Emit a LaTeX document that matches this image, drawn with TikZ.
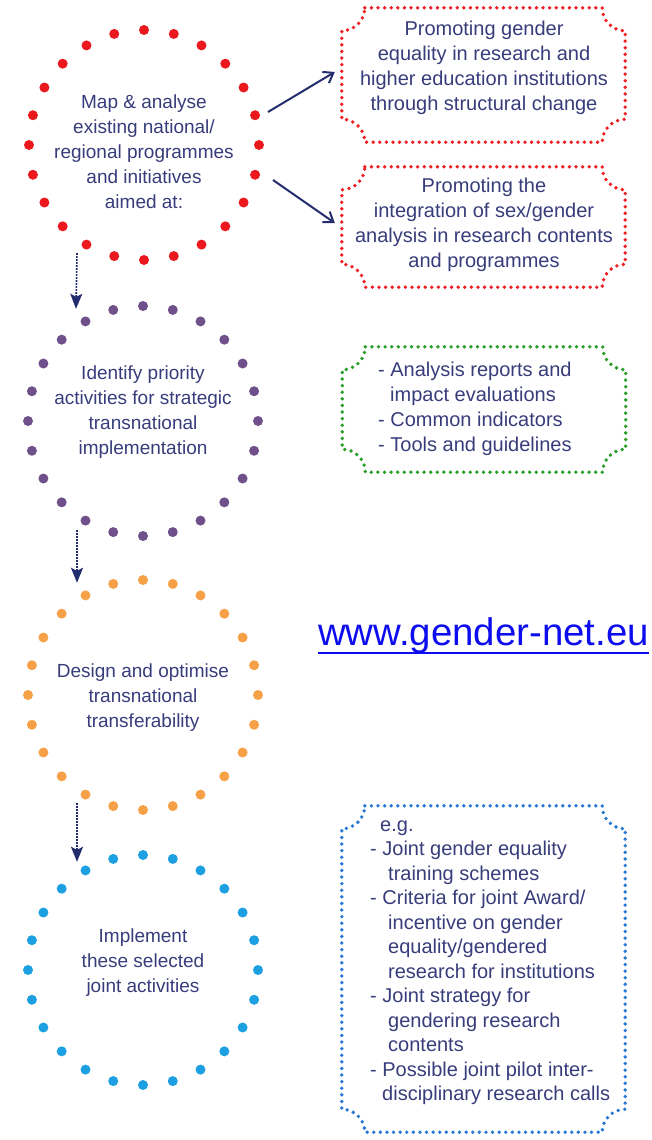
\documentclass[tikz,border=0pt]{standalone}
\usepackage{fontspec}
\setmainfont{Liberation Sans}
\usetikzlibrary{arrows.meta}
\definecolor{textnavy}{RGB}{55,60,122}
\definecolor{arrownavy}{RGB}{35,45,110}
\definecolor{dotred}{RGB}{235,25,30}
\definecolor{dotpurple}{RGB}{112,80,138}
\definecolor{dotorange}{RGB}{246,160,72}
\definecolor{dotblue}{RGB}{28,160,226}
\definecolor{boxred}{RGB}{238,30,35}
\definecolor{boxgreen}{RGB}{40,158,40}
\definecolor{boxblue}{RGB}{40,120,212}
\definecolor{urlblue}{RGB}{12,12,238}
\newcommand{\dotring}[2]{%
  \foreach \a in {0,15,...,345}
    \fill [#2] (#1.center) ++(\a:115pt) circle (5pt);}
\newcommand{\ticketbox}[2]{%
  \draw [boxline, #2] ([xshift=23pt]#1.north west) -- ([xshift=-23pt]#1.north east)
    arc [start angle=180, end angle=270, radius=23pt] -- ([yshift=23pt]#1.south east)
    arc [start angle=90, end angle=180, radius=23pt] -- ([xshift=23pt]#1.south west)
    arc [start angle=0, end angle=90, radius=23pt] -- ([yshift=-23pt]#1.north west)
    arc [start angle=270, end angle=360, radius=23pt] -- cycle;}
\begin{document}
\begin{tikzpicture}[x=1pt, y=1pt,
    every node/.style={inner sep=0pt},
    ringnode/.style={circle, minimum size=230pt},
    boxnode/.style={rectangle, minimum width=283pt},
    circtext/.style={align=center, text=textnavy, font=\fontsize{19}{25}\selectfont},
    boxtext/.style={text=textnavy, font=\fontsize{20}{25}\selectfont},
    boxline/.style={line width=3.8pt, line cap=round, dash pattern=on 0pt off 6.6pt},
    linkarrow/.style={arrownavy, line width=2pt, -{Straight Barb[length=9pt,width=13pt]}},
    flowarrow/.style={arrownavy, line width=1.6pt, dash pattern=on 1.6pt off 1.4pt,
      -{Stealth[length=15pt,width=12pt,inset=3pt]}}]
    \useasboundingbox (0,0) rectangle (652,-1140);
    \node [ringnode] (map) at (144,-145) {};
    \node [ringnode] (identify) at (143,-421) {};
    \node [ringnode] (design) at (143,-695) {};
    \node [ringnode] (implement) at (143,-970) {};
    \dotring{map}{dotred}
    \dotring{identify}{dotpurple}
    \dotring{design}{dotorange}
    \dotring{implement}{dotblue}
    \node [circtext] (maptext) at (144,-152) {Map \& analyse\\existing national/\\regional programmes\\and initiatives\\aimed at:};
    \node [circtext] (identifytext) at (143,-412) {Identify priority\\activities for strategic\\transnational\\implementation};
    \node [circtext] (designtext) at (143,-698) {Design and optimise\\transnational\\transferability};
    \node [circtext] (implementtext) at (143,-963) {Implement\\these selected\\joint activities};
    \node [boxnode, minimum height=134pt] (structural) at (483.5,-75) {};
    \node [boxnode, minimum height=120pt] (integration) at (483.5,-227) {};
    \node [boxnode, minimum height=125pt] (outputs) at (484,-409.5) {};
    \node [boxnode, minimum height=326pt] (examples) at (483.5,-969) {};
    \ticketbox{structural}{boxred}
    \ticketbox{integration}{boxred}
    \ticketbox{outputs}{boxgreen}
    \ticketbox{examples}{boxblue}
    \node [boxtext, align=center] (structuraltext) at (484,-67.5) {Promoting gender\\equality in research and\\higher education institutions\\through structural change};
    \node [boxtext, align=center] (integrationtext) at (484,-225) {Promoting the\\integration of sex/gender\\analysis in research contents\\and programmes};
    \node [boxtext, align=left, anchor=west] (outputstext) at (378,-408.5) {- Analysis reports and\\\hspace*{12pt}impact evaluations\\- Common indicators\\- Tools and guidelines};
    \node [boxtext, align=left, anchor=west, font=\fontsize{20}{24.5}\selectfont] (examplestext) at (370,-962.5) {\hspace*{10pt}e.g.\\- Joint gender equality\\\hspace*{18pt}training schemes\\- Criteria for joint Award/\\\hspace*{18pt}incentive on gender\\\hspace*{18pt}equality/gendered\\\hspace*{18pt}research for institutions\\- Joint strategy for\\\hspace*{18pt}gendering research\\\hspace*{18pt}contents\\- Possible joint pilot inter-\\\hspace*{12pt}disciplinary research calls};
    \node [anchor=base west, text=urlblue, font=\fontsize{38.4}{40}\selectfont] (url) at (318,-645) {www.gender-net.eu};
    \draw [urlblue, line width=2.8pt] ([yshift=-8pt]url.base west) -- ([yshift=-8pt]url.base east);
    \draw [linkarrow] ([shift={(124,33)}]map.center) -- ([shift={(-7,3)}]structural.west);
    \draw [linkarrow] ([shift={(129,-35)}]map.center) -- ([shift={(-7,4)}]integration.west);
    \draw [flowarrow] ([shift={(-67,7)}]map.south) -- ([shift={(-67,-3)}]identify.north);
    \draw [flowarrow] ([shift={(-66,6)}]identify.south) -- ([shift={(-66,-3)}]design.north);
    \draw [flowarrow] ([shift={(-66,7)}]design.south) -- ([shift={(-66,-7)}]implement.north);
\end{tikzpicture}
\end{document}
